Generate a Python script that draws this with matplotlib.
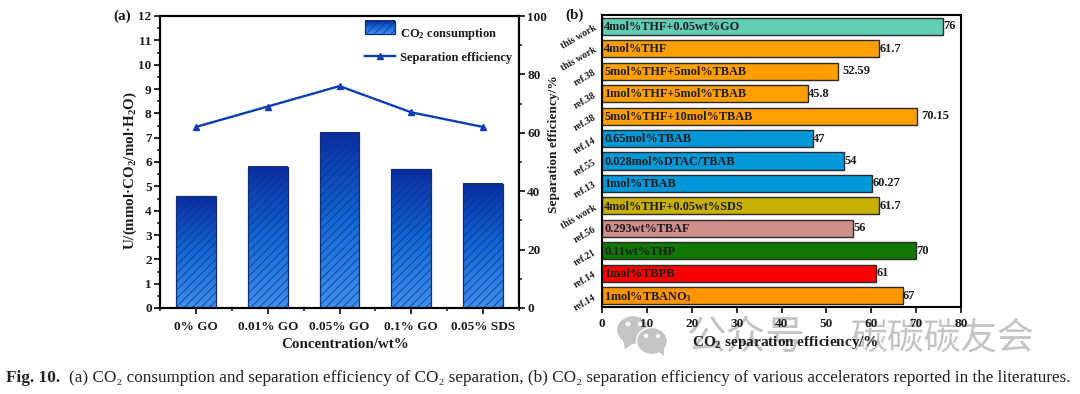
import numpy as np
import matplotlib
matplotlib.use('Agg')
import matplotlib.pyplot as plt
from matplotlib.colors import LinearSegmentedColormap, Normalize
from matplotlib.image import BboxImage
from matplotlib.legend_handler import HandlerBase
from matplotlib.patches import Ellipse, Polygon, Rectangle
from matplotlib.ticker import MultipleLocator
from matplotlib.transforms import Bbox, TransformedBbox

# panel (a)
concentrations = ['0% GO', '0.01% GO', '0.05% GO', '0.1% GO', '0.05% SDS']
consumption = [4.6, 5.8, 7.2, 5.7, 5.1]
efficiency = [62, 69, 76, 67, 62]

# panel (b), top to bottom
refs = ['this work', 'this work', 'ref.38', 'ref.38', 'ref.38', 'ref.14', 'ref.55',
        'ref.13', 'this work', 'ref.56', 'ref.21', 'ref.14', 'ref.14']
systems = ['4mol%THF+0.05wt%GO', '4mol%THF', '5mol%THF+5mol%TBAB', '1mol%THF+5mol%TBAB',
           '5mol%THF+10mol%TBAB', '0.65mol%TBAB', '0.028mol%DTAC/TBAB', '1mol%TBAB',
           '4mol%THF+0.05wt%SDS', '0.293wt%TBAF', '0.11wt%THP', '1mol%TBPB', '1mol%TBANO$_3$']
values = [76, 61.7, 52.59, 45.8, 70.15, 47, 54, 60.27, 61.7, 56, 70, 61, 67]
value_labels = ['76', '61.7', '52.59', '45.8', '70.15', '47', '54', '60.27', '61.7', '56', '70', '61', '67']
bar_colors = ['#62cdb5', '#ff9f00', '#ff9f00', '#ff9f00', '#ff9f00', '#0098d8', '#0098d8',
              '#0098d8', '#c8b000', '#d08f8c', '#107800', '#f80000', '#ff9500']

W, H = 1080, 394
SERIF = 'Liberation Serif'
DARK = '#1c1c1c'

plt.rcParams['font.family'] = [SERIF, 'DejaVu Sans']
plt.rcParams['font.weight'] = 'bold'
plt.rcParams['font.size'] = 9.5
plt.rcParams['text.color'] = DARK
plt.rcParams['axes.labelcolor'] = DARK
plt.rcParams['axes.labelweight'] = 'bold'
plt.rcParams['xtick.color'] = DARK
plt.rcParams['ytick.color'] = DARK
plt.rcParams['mathtext.fontset'] = 'custom'
plt.rcParams['mathtext.rm'] = 'Liberation Serif:bold'
plt.rcParams['mathtext.default'] = 'rm'
plt.rcParams['hatch.linewidth'] = 0.5


def axes_box(left, top, right, bottom):
    return [left / W, 1 - bottom / H, (right - left) / W, (bottom - top) / H]


grad_cmap = LinearSegmentedColormap.from_list('bars', ['#0a2ea6', '#1268d8', '#3f8ff0'])
gradient = np.linspace(0, 1, 128).reshape(-1, 1)


class GradientHandler(HandlerBase):
    def create_artists(self, legend, orig, x, y, w, h, fontsize, trans):
        box = TransformedBbox(Bbox.from_bounds(x, y, w, h), trans)
        img = BboxImage(box, cmap=grad_cmap, norm=Normalize(0, 1), origin='upper')
        img.set_data(gradient)
        rect = Rectangle((x, y), w, h, fc='none', ec='#10306f', hatch='////', lw=0.9, transform=trans)
        return [img, rect]


fig = plt.figure(figsize=(W / 100, H / 100), dpi=100)

# (a)
ax = fig.add_axes(axes_box(160, 16, 519, 308))
x = np.arange(len(concentrations))
bar_w = 0.555
for xi, v in zip(x, consumption):
    ax.imshow(gradient, extent=[xi - bar_w / 2, xi + bar_w / 2, 0, v], cmap=grad_cmap,
              aspect='auto', zorder=1, norm=Normalize(0, 1))
bars_a = ax.bar(x, consumption, bar_w, facecolor='none', edgecolor='#123070', hatch='////',
                linewidth=0.9, zorder=2)
ax.set_xlim(-0.5, 4.5)
ax.set_ylim(0, 12)
ax.set_xticks(x, concentrations)
ax.xaxis.set_minor_locator(MultipleLocator(1, offset=0.5))
ax.yaxis.set_major_locator(MultipleLocator(1))
ax.yaxis.set_minor_locator(MultipleLocator(0.5))
ax.set_xlabel('Concentration/wt%', fontsize=10.8, labelpad=4, x=0.517)
ax.set_ylabel('U/(mmol·CO$_2$/mol·H$_2$O)', fontsize=10.8)
ax.yaxis.set_label_coords(-0.058, 0.47)

ax2 = ax.twinx()
line_a, = ax2.plot(x, efficiency, color='#0b3db5', lw=1.7, marker='^', ms=5)
ax2.set_ylim(0, 100)
ax2.yaxis.set_major_locator(MultipleLocator(20))
ax2.yaxis.set_minor_locator(MultipleLocator(10))
ax2.set_ylabel('Separation efficiency/%', fontsize=9.6)
ax2.yaxis.set_label_coords(1.08, 0.56)

for a in (ax, ax2):
    for s in a.spines.values():
        s.set_linewidth(1.5)
    a.tick_params(which='major', length=4, width=1.3, pad=2)
    a.tick_params(which='minor', length=2.5, width=1.1)
ax.tick_params(axis='x', which='major', pad=5)

ax2.legend([bars_a, line_a], ['CO$_2$ consumption', 'Separation efficiency'],
           handler_map={bars_a: GradientHandler()}, loc='upper left',
           bbox_to_anchor=(0.565, 0.975), frameon=False, fontsize=9, handlelength=2.35,
           handleheight=1.25, handletextpad=0.45, labelspacing=0.68, numpoints=1,
           borderpad=0.2, borderaxespad=0)

fig.text(113 / W, 1 - 16 / H, '(a)', fontsize=11, ha='left', va='center')

# (b)
bx = fig.add_axes(axes_box(602, 15, 961, 307))
y = np.arange(len(systems))
bx.barh(y, values, 0.76, color=bar_colors, edgecolor='#2b2b2b', linewidth=1.0)
bx.set_xlim(0, 80)
bx.set_ylim(len(systems) - 0.5, -0.5)
bx.xaxis.set_major_locator(MultipleLocator(10))
bx.set_yticks(y, refs, rotation=30, ha='right', rotation_mode='anchor', fontsize=7)
bx.tick_params(axis='y', length=0, pad=5)
bx.tick_params(axis='x', length=4, width=1.3, pad=4)
for s in bx.spines.values():
    s.set_linewidth(1.5)
bx.set_xlabel('CO$_2$ separation efficiency/%', fontsize=11, labelpad=3, x=0.511)
for yi, v, name, lab in zip(y, values, systems, value_labels):
    bx.annotate(name, (0, yi), xytext=(1.5, -0.5), textcoords='offset points', va='center',
                ha='left', fontsize=8.8, color=DARK)
    gap = 3.5 if lab in ('52.59', '70.15') else 0.3
    bx.annotate(lab, (v, yi), xytext=(gap, 0), textcoords='offset points', va='center',
                ha='left', fontsize=9, color=DARK)

fig.text(565 / W, 1 - 15 / H, '(b)', fontsize=11, ha='left', va='center')

# watermark, kept under the axes so the tick labels stay readable
WM = '#c4c4c4'
CJK = ['Noto Sans CJK SC', 'DejaVu Sans']
fig.text(687 / W, 1 - 338 / H, '公众号', fontsize=28.5, color=WM, weight='normal',
         family=CJK, ha='left', va='center', zorder=-2)
fig.text(851 / W, 1 - 338 / H, '碳碳碳友会', fontsize=26.5, color=WM, weight='normal',
         family=CJK, ha='left', va='center', zorder=-2)
for cx, cy, ew, eh in [(633, 330, 33, 29), (652, 341, 31, 27)]:
    fig.add_artist(Ellipse((cx / W, 1 - cy / H), ew / W, eh / H, transform=fig.transFigure,
                           fc=WM, ec='white', lw=1.0, zorder=-2))
for tail in ([(623, 340), (625, 349), (634, 343)], [(658, 351), (664, 356), (664, 347)]):
    fig.add_artist(Polygon([(px / W, 1 - py / H) for px, py in tail], transform=fig.transFigure,
                           fc=WM, ec='none', zorder=-2))
for cx, cy in [(628, 324), (640, 324), (646, 336), (658, 336)]:
    fig.add_artist(Ellipse((cx / W, 1 - cy / H), 4.5 / W, 4.5 / H, transform=fig.transFigure,
                           fc='white', ec='none', zorder=-1))

# caption
fig.text(6 / W, 1 - 378 / H, 'Fig. 10.', fontsize=12.4, ha='left', va='center', color='#222222')
fig.text(69 / W, 1 - 378 / H,
         '(a) CO₂ consumption and separation efficiency of CO₂ separation, (b) CO₂ separation '
         'efficiency of various accelerators reported in the literatures.',
         fontsize=12.3, weight='normal', ha='left', va='center', color='#222222',
         family=[SERIF, 'DejaVu Serif'])

fig.savefig('out.png', dpi=100)
